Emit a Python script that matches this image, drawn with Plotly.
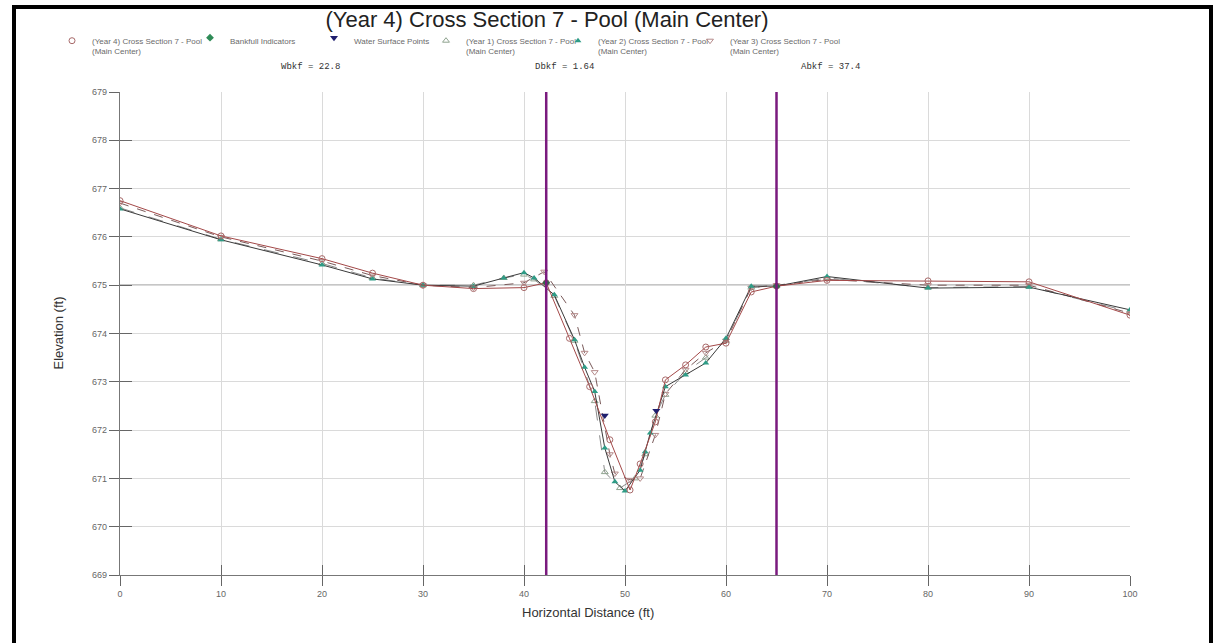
import plotly.graph_objects as go

# ---------------- data ----------------
year4_x = [0, 10, 20, 25, 30, 35, 40, 42.2, 44.5, 46.5, 48.5, 50.5, 51.5, 53, 54, 56, 58, 60, 62.5, 65, 70, 80, 90, 100]
year4_y = [676.75, 676.02, 675.55, 675.25, 675.0, 674.93, 674.95, 675.05, 673.9, 672.9, 671.8, 670.76, 671.3, 672.17, 673.04, 673.35, 673.72, 673.8, 674.86, 674.98, 675.1, 675.09, 675.07, 674.38]

year1_x = [0, 10, 20, 25, 30, 35, 38, 40, 41, 43, 45, 47, 48, 49.5, 51, 52, 53, 54, 56, 58, 60, 62.5, 65, 70, 80, 90, 100]
year1_y = [676.6, 675.95, 675.45, 675.15, 675.0, 675.0, 675.15, 675.22, 675.12, 674.78, 673.85, 672.6, 671.13, 670.8, 671.0, 671.5, 672.3, 672.73, 673.2, 673.5, 673.85, 674.95, 674.98, 675.15, 674.95, 674.97, 674.45]

year2_x = [0, 10, 20, 25, 30, 35, 38, 40, 41, 43, 45, 46, 47, 48, 49, 50, 51.5, 52, 52.5, 54, 56, 58, 60, 62.5, 65, 70, 80, 90, 100]
year2_y = [676.58, 675.94, 675.42, 675.13, 675.0, 674.98, 675.15, 675.26, 675.15, 674.8, 673.87, 673.3, 672.8, 671.63, 670.93, 670.74, 671.17, 671.55, 671.94, 672.9, 673.14, 673.39, 673.9, 674.98, 674.98, 675.18, 674.94, 674.96, 674.49]

year3_x = [0, 10, 20, 25, 30, 35, 40, 42, 45, 46, 47, 48.5, 49, 50.5, 51.5, 53, 54, 56, 58, 60, 62.5, 65, 70, 80, 90, 100]
year3_y = [676.7, 676.0, 675.5, 675.2, 675.0, 674.95, 675.05, 675.28, 674.38, 673.6, 673.2, 671.5, 671.1, 670.97, 671.0, 671.9, 672.75, 673.25, 673.6, 673.85, 674.95, 675.0, 675.12, 675.0, 675.0, 674.42]

bankfull_x = [42.2, 65.0]
bankfull_y = [675.05, 674.98]

water_x = [48.0, 53.1]
water_y = [672.3, 672.4]

bankfull_elev = 675.0
bankfull_left = 42.2
bankfull_right = 65.0

x_ticks = [0, 10, 20, 30, 40, 50, 60, 70, 80, 90, 100]
y_ticks = [669, 670, 671, 672, 673, 674, 675, 676, 677, 678, 679]

title_text = "(Year 4) Cross Section 7 - Pool (Main Center)"
names = {
    "y4": "(Year 4) Cross Section 7 - Pool<br>(Main Center)",
    "bf": "Bankfull Indicators",
    "ws": "Water Surface Points",
    "y1": "(Year 1) Cross Section 7 - Pool<br>(Main Center)",
    "y2": "(Year 2) Cross Section 7 - Pool<br>(Main Center)",
    "y3": "(Year 3) Cross Section 7 - Pool<br>(Main Center)",
}
stats = ["Wbkf = 22.8", "Dbkf = 1.64", "Abkf = 37.4"]

# ---------------- layout geometry ----------------
W, H = 1224, 643
# plot area in page pixels: x 120..1130, y 92..575
L, T = 120, 92
PW, PH = 1010, 483
R = W - L - PW
B = H - T - PH


def px_x(p):  # page pixel -> paper x
    return (p - L) / PW


def px_y(p):  # page pixel -> paper y
    return (T + PH - p) / PH


fig = go.Figure()

c_y4 = "#A34848"
c_y4m = "#A86A6A"
c_y1 = "#8A8A8A"
c_y1m = "#8FA38F"
c_y2 = "#3A3A3A"
c_y2m = "#2E9C86"
c_y3 = "#7A5A5A"
c_y3m = "#B58A8A"

# data traces
fig.add_trace(go.Scatter(x=year1_x, y=year1_y, mode="lines+markers", showlegend=False,
                         line=dict(color=c_y1, width=1, dash="longdash"),
                         marker=dict(symbol="triangle-up-open", size=6, color=c_y1m, line=dict(width=1))))
fig.add_trace(go.Scatter(x=year3_x, y=year3_y, mode="lines+markers", showlegend=False,
                         line=dict(color=c_y3, width=1, dash="dash"),
                         marker=dict(symbol="triangle-down-open", size=6, color=c_y3m, line=dict(width=1))))
fig.add_trace(go.Scatter(x=year2_x, y=year2_y, mode="lines+markers", showlegend=False,
                         line=dict(color=c_y2, width=1),
                         marker=dict(symbol="triangle-up", size=6, color=c_y2m)))
fig.add_trace(go.Scatter(x=year4_x, y=year4_y, mode="lines+markers", showlegend=False,
                         line=dict(color=c_y4, width=1),
                         marker=dict(symbol="circle-open", size=6, color=c_y4m, line=dict(width=1))))
fig.add_trace(go.Scatter(x=bankfull_x, y=bankfull_y, mode="markers", showlegend=False,
                         marker=dict(symbol="diamond", size=6, color="#2E6B4A")))
fig.add_trace(go.Scatter(x=water_x, y=water_y, mode="markers", showlegend=False,
                         marker=dict(symbol="triangle-down", size=7, color="#1E1E6E")))

# legend proxies (one legend box each, positioned like the reference)
# values: text start px, legend top px
legend_items = [
    ("y4", dict(symbol="circle-open", size=6, color=c_y4m, line=dict(width=1)), 92, 29),
    ("bf", dict(symbol="diamond", size=6, color="#2E8B57"), 230, 26),
    ("ws", dict(symbol="triangle-down", size=7, color="#1E1E6E"), 354, 26),
    ("y1", dict(symbol="triangle-up-open", size=6, color=c_y1m, line=dict(width=1)), 466, 29),
    ("y2", dict(symbol="triangle-up", size=6, color=c_y2m), 598, 29),
    ("y3", dict(symbol="triangle-down-open", size=6, color=c_y3m, line=dict(width=1)), 730, 29),
]
legend_layouts = {}
for i, (key, mk, text_px, top_px) in enumerate(legend_items):
    lname = "legend" if i == 0 else f"legend{i + 1}"
    fig.add_trace(go.Scatter(x=[None], y=[None], mode="markers", name=names[key],
                             marker=mk, legend=lname, showlegend=True))
    legend_layouts[lname] = dict(
        x=px_x(text_px - 40), y=px_y(top_px), xanchor="left", yanchor="top",
        bgcolor="rgba(0,0,0,0)", borderwidth=0, itemwidth=30, valign="top",
        font=dict(family="Arial, Liberation Sans, sans-serif", size=8, color="#6A6A6A"),
        itemclick=False, itemdoubleclick=False,
    )

# dummy trace to activate overlay axes that draw the inner half of the crossing ticks
fig.add_trace(go.Scatter(x=[None], y=[None], xaxis="x2", yaxis="y2", showlegend=False, hoverinfo="skip"))

shapes = [
    dict(type="line", xref="x", yref="paper", x0=bankfull_left, x1=bankfull_left, y0=0, y1=1,
         line=dict(color="#7A1A7E", width=2.5), layer="above"),
    dict(type="line", xref="x", yref="paper", x0=bankfull_right, x1=bankfull_right, y0=0, y1=1,
         line=dict(color="#7A1A7E", width=2.5), layer="above"),
    dict(type="line", xref="paper", yref="y", x0=0, x1=1, y0=bankfull_elev, y1=bankfull_elev,
         line=dict(color="#8E8E8E", width=1.2), layer="below"),
    # outer black frame
    dict(type="rect", xref="paper", yref="paper",
         x0=px_x(14), x1=px_x(1211), y0=px_y(690), y1=px_y(7),
         line=dict(color="black", width=4), fillcolor="rgba(0,0,0,0)"),
]

mono = dict(family="Courier New, Liberation Mono, monospace", size=9, color="#333333")
sans13 = dict(family="Arial, Liberation Sans, sans-serif", size=13, color="#333333")
annotations = [
    dict(text=stats[0], x=px_x(310), y=px_y(67), font=mono),
    dict(text=stats[1], x=px_x(564), y=px_y(67), font=mono),
    dict(text=stats[2], x=px_x(830), y=px_y(67), font=mono),
    dict(text="Horizontal Distance (ft)", x=px_x(588), y=px_y(612), font=sans13),
    dict(text="Elevation (ft)", x=px_x(58), y=0.5, textangle=-90, font=sans13),
]
for a in annotations:
    a.update(xref="paper", yref="paper", showarrow=False, xanchor="center", yanchor="middle")

axis_common = dict(showline=True, linecolor="#777777", linewidth=1.2, mirror=False,
                   gridcolor="#DADADA", gridwidth=1, zeroline=False,
                   ticks="outside", ticklen=10, tickcolor="#666666", tickwidth=1,
                   tickfont=dict(family="Arial, Liberation Sans, sans-serif", size=9, color="#666666"))

fig.update_layout(
    width=W, height=H,
    margin=dict(l=L, r=R, t=T, b=B, autoexpand=False),
    paper_bgcolor="white", plot_bgcolor="white",
    title=dict(text=title_text, x=547 / W, xanchor="center", xref="container",
               y=1 - 19 / H, yanchor="middle", yref="container",
               font=dict(family="Arial, Liberation Sans, sans-serif", size=22, color="#222222")),
    xaxis=dict(range=[x_ticks[0], x_ticks[-1]], tickvals=x_ticks, **axis_common),
    yaxis=dict(range=[y_ticks[0], y_ticks[-1]], tickvals=y_ticks, **axis_common),
    xaxis2=dict(overlaying="x", matches="x", range=[x_ticks[0], x_ticks[-1]], tickvals=x_ticks,
                ticks="inside", ticklen=10, tickcolor="#666666", showticklabels=False,
                showgrid=False, zeroline=False, showline=False),
    yaxis2=dict(overlaying="y", matches="y", range=[y_ticks[0], y_ticks[-1]], tickvals=y_ticks,
                ticks="inside", ticklen=12, tickcolor="#666666", showticklabels=False,
                showgrid=False, zeroline=False, showline=False, side="left"),
    shapes=shapes,
    annotations=annotations,
    hovermode="closest",
    **legend_layouts,
)

fig.write_html("out.html", config={"displayModeBar": False},
               post_script="document.body.style.margin='0';")
